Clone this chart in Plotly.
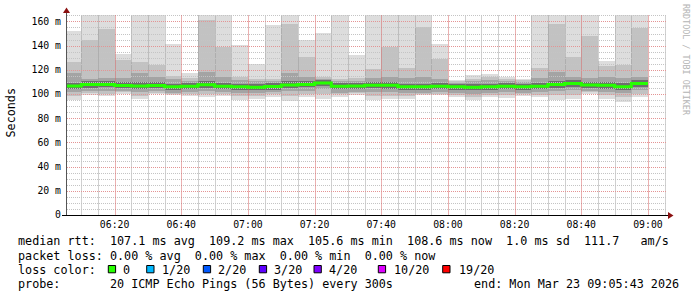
import plotly.graph_objects as go
import pandas as pd

# ---------------- data ----------------
bar_starts = pd.date_range("2026-03-23 06:05:00", periods=35, freq="5min")
range_start = "2026-03-23 06:05:43"
range_end = "2026-03-23 09:05:43"

ping_max = [152, 170, 170, 133, 170, 170, 141, 117, 170, 170,
            140.5, 124.4, 156.8, 170, 144.5, 150.2, 170, 132.3, 170, 170,
            170, 170, 141, 111.8, 115.8, 116.8, 114.2, 112.4, 170, 170,
            170, 170, 127.2, 170, 170]
ping_hi2 = [126.4, 145, 153.5, 128.2, 126.2, 124.3, 114.5, 113, 160.8, 139,
            114, 112.5, 112, 158, 130.5, 114, 112.5, 113, 120.5, 139,
            121.2, 155, 128.6, 110.8, 112.7, 114, 112.5, 111.2, 121.2, 158,
            130.3, 147.6, 123.5, 124.2, 154.6]
ping_hi3 = [117.2, 112.5, 113.5, 113, 117, 114.4, 112, 111, 118.5, 114,
            111.5, 110.5, 110.5, 117.5, 114.4, 112.5, 111, 111, 113, 114,
            113, 114, 112, 109.5, 111, 111.5, 110.5, 110, 113.5, 118.4,
            114, 113.5, 114, 113, 114]
ping_hi4 = [109.5, 110.6, 110.8, 109.8, 109.6, 109.7, 108.6, 109.0, 110.5, 109.3,
            108.5, 108.2, 108.8, 110.4, 110.7, 111.6, 109.2, 109.4, 110.0, 110.1,
            108.6, 108.6, 109.2, 108.4, 108.2, 108.5, 109.0, 108.5, 109.3, 110.7,
            111.5, 110.3, 110.0, 108.7, 111.4]
ping_median = [106.7, 107.8, 107.9, 107.0, 106.6, 107.0, 105.9, 106.4, 107.6, 106.4,
               105.9, 105.6, 106.2, 107.5, 107.9, 109.1, 106.4, 106.7, 107.2, 107.2,
               105.9, 105.9, 106.4, 105.9, 105.6, 105.9, 106.4, 105.9, 106.4, 107.8,
               108.7, 107.5, 107.2, 105.9, 108.6]
ping_lo4 = [104.2, 105.2, 105.4, 104.6, 104.0, 104.6, 103.4, 103.8, 105.0, 103.9,
            103.3, 103.0, 103.7, 104.9, 105.4, 106.5, 103.8, 104.2, 104.6, 104.5,
            103.3, 103.4, 103.9, 103.3, 103.0, 103.4, 103.8, 103.4, 103.8, 105.2,
            106.1, 105.0, 104.5, 103.2, 106.0]
ping_lo3 = [101.6, 102.8, 102.6, 102.4, 101.4, 102.3, 101.0, 101.3, 102.5, 101.5,
            100.8, 100.6, 101.3, 102.2, 102.6, 103.8, 101.2, 101.8, 101.9, 101.8,
            100.7, 101.2, 101.6, 100.9, 100.4, 101.0, 101.3, 101.0, 101.3, 102.4,
            103.4, 102.8, 101.8, 100.6, 103.2]
ping_lo2 = [98.6, 100.8, 100.4, 101.5, 98.6, 101.2, 100.2, 99.8, 100.2, 100.0,
            98.2, 98.6, 99.6, 98.4, 100.2, 100.4, 99.6, 100.5, 98.2, 98.4,
            98.2, 100.4, 100.3, 99.4, 97.8, 99.4, 99.2, 99.6, 99.5, 98.8,
            99.4, 101.4, 98.8, 97.2, 100.2]
ping_min = [95.0, 98.8, 98.0, 100.2, 95.6, 100.0, 99.0, 98.0, 97.8, 98.5,
            95.0, 96.2, 97.5, 94.3, 97.6, 96.2, 97.6, 99.2, 94.8, 95.5,
            95.5, 99.2, 99.0, 97.6, 94.8, 97.6, 97.0, 98.0, 97.6, 95.2,
            95.6, 100.0, 95.6, 93.5, 97.6]

y_tick_vals = [0, 20, 40, 60, 80, 100, 120, 140, 160]
y_tick_text = ["0", "20 m", "40 m", "60 m", "80 m", "100 m", "120 m", "140 m", "160 m"]
x_tick_vals = pd.date_range("2026-03-23 06:20", "2026-03-23 09:00", freq="20min")
x_tick_text = [t.strftime("%H:%M") for t in x_tick_vals]

legend_lines = [
    "median rtt:  107.1 ms avg  109.2 ms max  105.6 ms min  108.6 ms now  1.0 ms sd  111.7   am/s",
    "packet loss: 0.00 % avg  0.00 % max  0.00 % min  0.00 % now",
    "loss color:",
    "probe:       20 ICMP Echo Pings (56 Bytes) every 300s",
]
loss_labels = ["0", "1/20", "2/20", "3/20", "4/20", "10/20", "19/20"]
loss_colors = ["#26ff00", "#00b8ff", "#0059ff", "#5e00ff", "#7e00ff", "#dd00ff", "#ff0000"]
end_text = "end: Mon Mar 23 09:05:43 2026"

# ---------------- layout geometry ----------------
W, H = 697, 297
L, R, T, B = 67, 30, 15, 82
PW, PH = W - L - R, H - T - B
Y_MAX = 165.3
MONO = "DejaVu Sans Mono"
t0 = pd.Timestamp(range_start)
t1 = pd.Timestamp(range_end)
SPAN = (t1 - t0).total_seconds()


def xp(px):
    return (px - L) / PW


def yp(py):
    return (T + PH - py) / PH


def snap_time(t):
    """grid time moved onto the nearest pixel centre"""
    px = L + (t - t0).total_seconds() / SPAN * PW
    pc = round(px) + 0.5
    return t0 + pd.Timedelta(seconds=(pc - L) / PW * SPAN)


def snap_val(v):
    py = T + PH - v / Y_MAX * PH
    pc = round(py) + 0.5
    return (T + PH - pc) / PH * Y_MAX


step_ms = 5 * 60 * 1000
centers = bar_starts + pd.Timedelta(minutes=2.5)

fig = go.Figure()
bands = [
    (ping_min, ping_max, "#dddddd"),
    (ping_lo2, ping_hi2, "#c2c2c2"),
    (ping_lo3, ping_hi3, "#a4a4a4"),
    (ping_lo4, ping_hi4, "#6e6e6e"),
]
for lo, hi, col in bands:
    fig.add_trace(go.Bar(
        x=centers, y=[h - l for l, h in zip(lo, hi)], base=lo,
        width=step_ms, marker=dict(color=col, line=dict(width=0)),
        opacity=1, hoverinfo="skip", showlegend=False))

# grid drawn over the smoke (as in rrdtool)
minor_col, major_col = "#c4c4c4", "#e49494"
grid_times = pd.date_range("2026-03-23 06:10", "2026-03-23 09:05", freq="5min")
grid_vals = [v for v in range(5, 170, 5) if v <= Y_MAX]
for is_major, col, vcol in [(False, minor_col, "rgba(150,150,150,0.45)"),
                            (True, major_col, "rgba(215,100,100,0.5)")]:
    gx, gy = [], []
    for t in grid_times:
        if (t.minute % 20 == 0) == is_major:
            st = snap_time(t)
            gx += [st, st, None]
            gy += [0, Y_MAX, None]
    fig.add_trace(go.Scatter(x=gx, y=gy, mode="lines",
                             line=dict(color=vcol, width=1),
                             hoverinfo="skip", showlegend=False))
    hx, hy = [], []
    for v in grid_vals:
        if (v % 20 == 0) == is_major:
            sv = snap_val(v) if v < 165 else Y_MAX - 0.5 / PH * Y_MAX
            hx += [t0, t1, None]
            hy += [sv, sv, None]
    fig.add_trace(go.Scatter(x=hx, y=hy, mode="lines",
                             line=dict(color=col, width=1, dash="1px,1px"),
                             hoverinfo="skip", showlegend=False))

step_x = list(bar_starts) + [bar_starts[-1] + pd.Timedelta(minutes=5)]
step_y = ping_median + [ping_median[-1]]
fig.add_trace(go.Scatter(
    x=step_x, y=step_y, mode="lines", line=dict(color="#26ff00", width=3, shape="hv"),
    hoverinfo="skip", showlegend=False))

shapes = []
# axes
shapes.append(dict(type="line", xref="paper", yref="paper", x0=xp(66.5), x1=xp(66.5),
                   y0=yp(215), y1=yp(9),
                   line=dict(color="#555555", width=1), layer="above"))
shapes.append(dict(type="line", xref="paper", yref="paper", x0=xp(62), x1=xp(669),
                   y0=yp(215.5), y1=yp(215.5),
                   line=dict(color="#000000", width=1), layer="above"))
shapes.append(dict(type="path", xref="paper", yref="paper",
                   path=f"M {xp(668)} {yp(212)} L {xp(673.5)} {yp(215.5)} L {xp(668)} {yp(219)} Z",
                   fillcolor="#8b1010", line=dict(width=0), layer="above"))
shapes.append(dict(type="path", xref="paper", yref="paper",
                   path=f"M {xp(63)} {yp(13)} L {xp(66.5)} {yp(7.5)} L {xp(70)} {yp(13)} Z",
                   fillcolor="#8b1010", line=dict(width=0), layer="above"))

# legend squares
sq_x = [108.3, 146.7, 203.3, 259.3, 314, 378.3, 442.7]
lbl_x = [120.7, 160, 216, 271.7, 327, 391.7, 456.7]
for sx, col in zip(sq_x, loss_colors):
    shapes.append(dict(type="rect", xref="paper", yref="paper",
                       x0=xp(sx), x1=xp(sx + 7.3), y0=yp(272.8), y1=yp(265.5),
                       fillcolor=col, line=dict(color="#000000", width=1)))

annotations = []
line_y = [241, 255.5, 269.5, 283.5]
for txt, ly in zip(legend_lines, line_y):
    annotations.append(dict(text=txt.replace(" ", "&nbsp;"), xref="paper", yref="paper",
                            x=xp(16), y=yp(ly), xanchor="left", yanchor="middle",
                            showarrow=False, font=dict(family=MONO, size=11.75, color="#000000")))
for lx, lab in zip(lbl_x, loss_labels):
    annotations.append(dict(text=lab, xref="paper", yref="paper", x=xp(lx), y=yp(269.5),
                            xanchor="left", yanchor="middle", showarrow=False,
                            font=dict(family=MONO, size=11.75, color="#000000")))
annotations.append(dict(text=end_text, xref="paper", yref="paper", x=xp(681), y=yp(283.5),
                        xanchor="right", yanchor="middle", showarrow=False,
                        font=dict(family=MONO, size=11.75, color="#000000")))
annotations.append(dict(text="Seconds", xref="paper", yref="paper", x=xp(10.5), y=yp(113),
                        xanchor="center", yanchor="middle", textangle=-90, showarrow=False,
                        font=dict(family=MONO, size=11.75, color="#000000")))
annotations.append(dict(text="RRDTOOL / TOBI OETIKER", xref="paper", yref="paper",
                        x=xp(686.5), y=yp(59.5), xanchor="center", yanchor="middle",
                        textangle=90, showarrow=False,
                        font=dict(family=MONO, size=8.4, color="#b4b4b4")))

fig.update_layout(
    width=W, height=H, margin=dict(l=L, r=R, t=T, b=B, pad=0),
    paper_bgcolor="#ffffff", plot_bgcolor="#ffffff",
    barmode="overlay", bargap=0, showlegend=False,
    shapes=shapes, annotations=annotations,
    xaxis=dict(type="date", range=[range_start, range_end], tickmode="array",
               tickvals=list(x_tick_vals), ticktext=x_tick_text,
               showgrid=False, zeroline=False, showline=False, ticks="",
               ticklabelstandoff=2,
               tickfont=dict(family=MONO, size=9.8, color="#000000")),
    yaxis=dict(range=[0, Y_MAX], tickmode="array", tickvals=y_tick_vals, ticktext=y_tick_text,
               showgrid=False, zeroline=False, showline=False, ticks="",
               ticklabelstandoff=5,
               tickfont=dict(family=MONO, size=9.8, color="#000000")),
)

fig.write_html("out.html")
